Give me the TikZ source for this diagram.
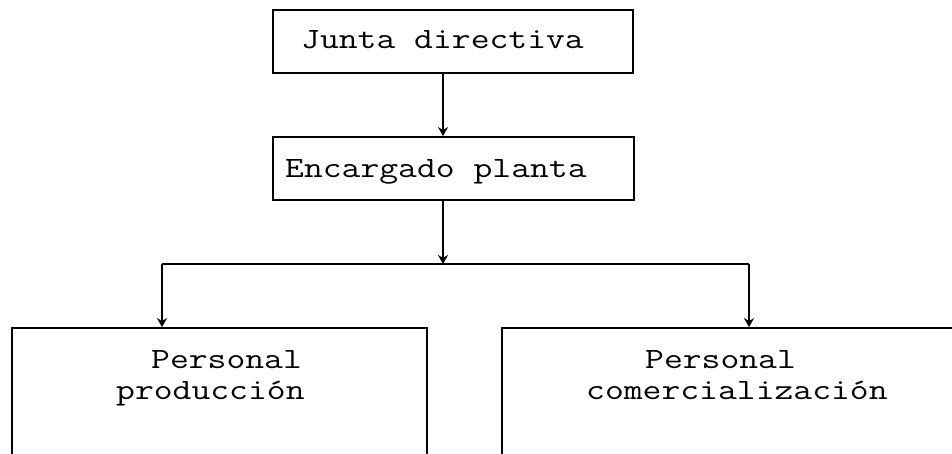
\documentclass[tikz,border=0pt]{standalone}
\usepackage{graphicx}
\usetikzlibrary{arrows.meta}
\begin{document}
\begin{tikzpicture}[x=1pt,y=-1pt,
  box/.style={draw,line width=1.8pt,rectangle,inner sep=0pt},
  lbl/.style={anchor=base west,inner sep=0pt,font=\fontsize{29.5}{32}\ttfamily},
  conn/.style={line width=1.8pt},
  arr/.style={conn,-{Stealth[length=9pt,width=10pt]}}]
\clip (0,0) rectangle (952,453);
\fill[white] (0,0) rectangle (952,453);
% boxes
\node[box,minimum width=360pt,minimum height=63pt] (jd) at (453,41.5) {};
\node[box,minimum width=361pt,minimum height=63pt] (ep) at (453.5,168.5) {};
\node[box,minimum width=415pt,minimum height=200pt] (pp) at (219.5,428) {};
\node[box,minimum width=498pt,minimum height=200pt] (pc) at (751,428) {};
% texts
\node[lbl] (t1) at (301,48) {\scalebox{1.24}[1]{Junta directiva}};
\node[lbl] (t2) at (285,177) {\scalebox{1.24}[1]{Encargado planta}};
\node[lbl] (t3) at (151,368) {\scalebox{1.24}[1]{Personal}};
\node[lbl] (t4) at (116,399) {\scalebox{1.24}[1]{producción}};
\node[lbl] (t5) at (645,368) {\scalebox{1.24}[1]{Personal}};
\node[lbl] (t6) at (586,399) {\scalebox{1.24}[1]{comercialización}};
% connectors
\coordinate (j) at (443,264);
\coordinate (l) at (162,264);
\coordinate (r) at (749,264);
\draw[arr] (j |- jd.south) -- (j |- ep.north);
\draw[arr] (j |- ep.south) -- (j);
\draw[conn] (l) -- (r);
\draw[arr] (l) -- (l |- pp.north);
\draw[arr] (r) -- (r |- pc.north);
\end{tikzpicture}
\end{document}
